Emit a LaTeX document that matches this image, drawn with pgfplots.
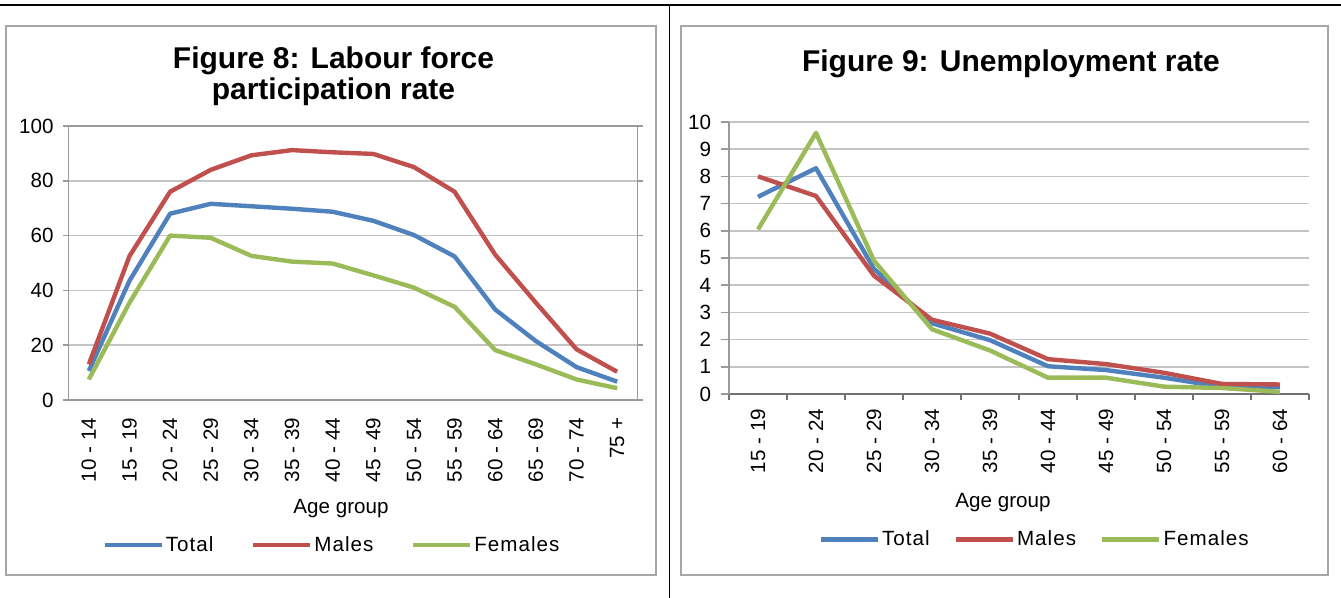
\documentclass[border=0pt]{standalone}
\usepackage{fontspec}
\setmainfont{Liberation Sans}
\newfontfamily\legendfamily[LetterSpace=5]{Liberation Sans}
\usepackage{pgfplots}
\pgfplotsset{compat=1.18}

\definecolor{cTotal}{HTML}{4F81BD}
\definecolor{cMales}{HTML}{C0504D}
\definecolor{cFemales}{HTML}{9BBB59}
\definecolor{cGrid}{HTML}{C4C4C4}
\definecolor{cAxis}{HTML}{9A9A9A}
\definecolor{cFrame}{HTML}{A6A6A6}

\newcommand{\tickfont}{\fontsize{10.3}{12}\selectfont}
\newcommand{\titlefont}{\fontsize{15}{16}\selectfont\bfseries}

\pgfplotsset{
  excelline/.style={
    scale only axis,
    /pgf/number format/assume math mode=true,
    ymajorgrids,
    grid style={cGrid, line width=0.75pt},
    tick label style={font=\tickfont, black},
    tick align=outside,
    xticklabel style={rotate=90, anchor=east, inner sep=0pt},
    yticklabel style={anchor=east, inner sep=0pt},
    legend columns=3,
    legend cell align=left,
    legend style={draw=none, fill=none, font=\legendfamily\tickfont,
      nodes={inner sep=1pt}, anchor=center},
    legend image code/.code={
      \draw[#1, line width=2.2pt] (0pt,0pt) -- (28.5pt,0pt);},
    every axis plot/.append style={line width=2.2pt, line join=round, no marks},
  },
}

\begin{document}
\begin{tikzpicture}
% pixel grid of the reference: 1 px = 0.5 pt, y downwards
\begin{scope}[x=0.5pt, y=-0.5pt]
\useasboundingbox (0,0) rectangle (1341,598);
\draw[black, line width=0.6pt] (0,5) -- (1341,5);
\draw[black, line width=0.6pt] (669.5,5) -- (669.5,598);
\draw[cFrame, line width=0.8pt] (6,26) rectangle (656,575);
\draw[cFrame, line width=0.8pt] (681,26) rectangle (1328,575);
\node[font=\titlefont, anchor=base] at (333.5,68.3) {Figure 8: Labour force};
\node[font=\titlefont, anchor=base] at (333.5,100) {participation rate};
\node[font=\tickfont, anchor=base] at (341,514) {Age group};
\node[font=\titlefont, anchor=base] at (1011,71.7) {Figure 9: Unemployment rate};
\node[font=\tickfont, anchor=base] at (1003,508) {Age group};
\end{scope}

% Figure 8
\begin{axis}[excelline,
    at={(34.25pt,-200pt)}, anchor=south west,
    width=284.5pt, height=137pt,
    xmin=-0.5, xmax=13.5, ymin=0, ymax=100,
    ytick={0,20,...,100},
    xtick={0,...,13},
    xticklabels={10 - 14,15 - 19,20 - 24,25 - 29,30 - 34,35 - 39,40 - 44,
      45 - 49,50 - 54,55 - 59,60 - 64,65 - 69,70 - 74,75 +},
    axis line style={cAxis, line width=0.75pt},
    major x tick style={draw=none},
    major y tick style={cAxis, line width=0.75pt},
    major tick length=2.75pt,
    xticklabel shift=6pt,
    yticklabel style={xshift=-4.5pt},
    legend style={at={(0.463,-0.53)},
      /tikz/every even column/.append style={column sep=17.75pt}},
  ]
\addplot[cTotal] coordinates {
  (0,10.6) (1,43.5) (2,68) (3,71.6) (4,70.7) (5,69.8) (6,68.7)
  (7,65.4) (8,60.2) (9,52.4) (10,33) (11,21.5) (12,12) (13,6.7)};
\addlegendentry{Total}
\addplot[cMales] coordinates {
  (0,13) (1,52.5) (2,76) (3,84) (4,89.3) (5,91.2) (6,90.4)
  (7,89.8) (8,85) (9,76) (10,53) (11,35.5) (12,18.5) (13,10.3)};
\addlegendentry{Males}
\addplot[cFemales] coordinates {
  (0,7.5) (1,35.5) (2,60) (3,59.2) (4,52.6) (5,50.5) (6,49.8)
  (7,45.5) (8,41) (9,34) (10,18.2) (11,13) (12,7.5) (13,4.3)};
\addlegendentry{Females}
\end{axis}

% Figure 9
\begin{axis}[excelline,
    at={(364.5pt,-197pt)}, anchor=south west,
    width=290pt, height=136pt,
    xmin=-0.5, xmax=9.5, ymin=0, ymax=10,
    ytick={0,1,...,10},
    xtick={0,...,9},
    minor xtick={-0.5,0.5,...,9.5},
    xticklabels={15 - 19,20 - 24,25 - 29,30 - 34,35 - 39,40 - 44,
      45 - 49,50 - 54,55 - 59,60 - 64},
    axis x line*=bottom, axis y line*=left,
    axis line style={cAxis, line width=0.75pt, -},
    x axis line style={color=black!55},
    major x tick style={draw=none},
    minor x tick style={black!55, line width=0.75pt},
    major y tick style={cAxis, line width=0.75pt},
    major tick length=4.25pt,
    minor tick length=3pt,
    xticklabel shift=3pt,
    yticklabel style={xshift=-4.5pt},
    legend style={at={(0.527,-0.535)},
      /tikz/every even column/.append style={column sep=11pt}},
  ]
\addplot[cTotal] coordinates {
  (0,7.25) (1,8.3) (2,4.6) (3,2.6) (4,1.98) (5,1.02) (6,0.88)
  (7,0.6) (8,0.26) (9,0.25)};
\addlegendentry{Total}
\addplot[cMales] coordinates {
  (0,8.0) (1,7.28) (2,4.35) (3,2.73) (4,2.22) (5,1.28) (6,1.1)
  (7,0.78) (8,0.37) (9,0.35)};
\addlegendentry{Males}
\addplot[cFemales] coordinates {
  (0,6.05) (1,9.6) (2,4.9) (3,2.38) (4,1.6) (5,0.6) (6,0.6)
  (7,0.27) (8,0.22) (9,0.08)};
\addlegendentry{Females}
\end{axis}
\end{tikzpicture}
\end{document}
